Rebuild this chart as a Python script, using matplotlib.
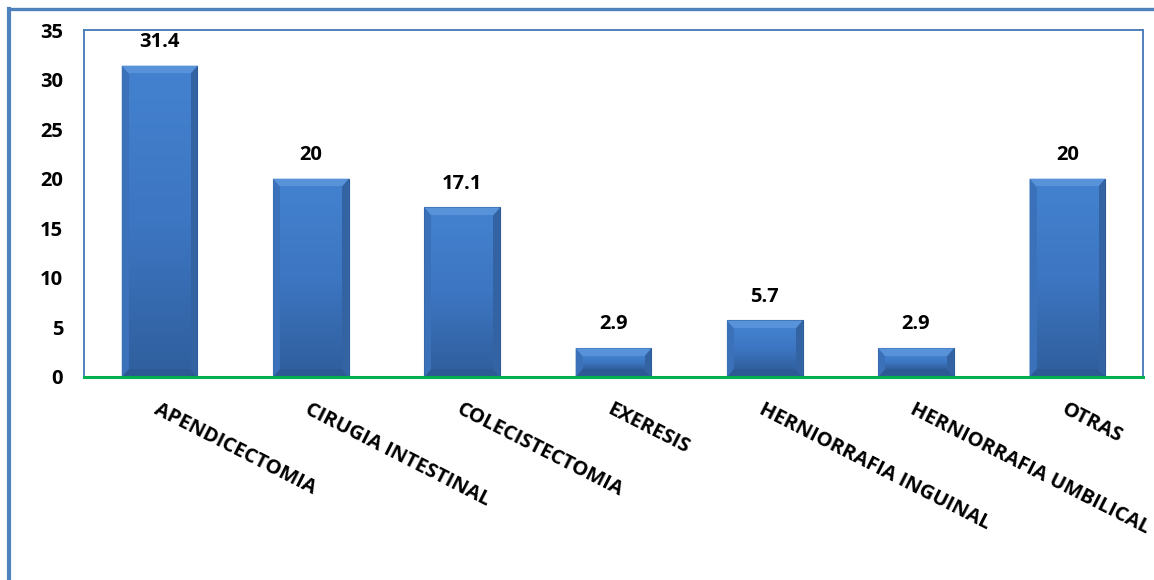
import numpy as np
import matplotlib.pyplot as plt
from matplotlib.patches import Polygon
from matplotlib.lines import Line2D
from matplotlib.colors import LinearSegmentedColormap

categories = ['APENDICECTOMIA', 'CIRUGIA INTESTINAL', 'COLECISTECTOMIA', 'EXERESIS',
              'HERNIORRAFIA INGUINAL', 'HERNIORRAFIA UMBILICAL', 'OTRAS']
values = [31.4, 20, 17.1, 2.9, 5.7, 2.9, 20]
value_labels = ['31.4', '20', '17.1', '2.9', '5.7', '2.9', '20']

plt.rcParams['font.family'] = ['Open Sans', 'DejaVu Sans']
plt.rcParams['font.weight'] = 'bold'

W, H, DPI = 1154, 580, 100
fig = plt.figure(figsize=(W / DPI, H / DPI), dpi=DPI)
ax = fig.add_axes([84 / W, 1 - 377 / H, (1143 - 84) / W, (377 - 30) / H])

x = np.arange(len(categories))
bw = 0.5
bars = ax.bar(x, values, width=bw, color='#3C74BE', edgecolor='#2B5A96',
              linewidth=0.8, zorder=2)

face = LinearSegmentedColormap.from_list('face', ['#30609F', '#3D76C2', '#4381CE'])
grad = np.linspace(0, 1, 64).reshape(-1, 1)

# bevel on each bar: light top, shaded sides and bottom, graded face
px_x = (1143 - 84) / len(categories)
px_y = (377 - 30) / 35
bx, by = 7 / px_x, 8 / px_y
for b in bars:
    x0, x1 = b.get_x(), b.get_x() + b.get_width()
    h = b.get_height()
    dy = min(by, h / 2)
    top = [(x0, h), (x1, h), (x1 - bx, h - dy), (x0 + bx, h - dy)]
    bot = [(x0, 0), (x1, 0), (x1 - bx, dy), (x0 + bx, dy)]
    left = [(x0, 0), (x0, h), (x0 + bx, h - dy), (x0 + bx, dy)]
    right = [(x1, 0), (x1, h), (x1 - bx, h - dy), (x1 - bx, dy)]
    for pts, c in [(left, '#3A71B9'), (right, '#3363A2'), (bot, '#2D5A94'), (top, '#5893DA')]:
        ax.add_patch(Polygon(pts, closed=True, facecolor=c, edgecolor='none', zorder=3))
    ax.imshow(grad, cmap=face, origin='lower', aspect='auto', zorder=3,
              extent=(x0 + bx, x1 - bx, dy, h - dy), interpolation='bilinear')

ax.set_xlim(-0.5, len(categories) - 0.5)
ax.set_ylim(0, 35)
ax.set_yticks(range(0, 36, 5))

for xi, v, lab in zip(x, values, value_labels):
    ax.annotate(lab, (xi, v), xytext=(0, 10), textcoords='offset points',
                ha='center', va='bottom', fontsize=14.5, fontweight='bold')

ax.set_xticks(x)
ax.set_xticklabels(categories, rotation=-27, ha='left', va='top',
                   rotation_mode='anchor', fontsize=14.5, fontweight='bold')
ax.tick_params(axis='x', length=0, pad=16)
ax.tick_params(axis='y', length=0, pad=15, labelsize=14.5)
for t in ax.get_yticklabels():
    t.set_fontweight('bold')

for s in ['left', 'top', 'right']:
    ax.spines[s].set_color('#4F81BD')
    ax.spines[s].set_linewidth(1.4)
ax.spines['bottom'].set_color('#00B050')
ax.spines['bottom'].set_linewidth(2.2)
ax.spines['bottom'].set_zorder(4)

# outer chart frame
fig.add_artist(Line2D([9 / W, 9 / W], [0, 1 - 9 / H], color='#4F81BD', lw=3,
                      transform=fig.transFigure, solid_capstyle='projecting'))
fig.add_artist(Line2D([9 / W, 1], [1 - 9 / H, 1 - 9 / H], color='#4F81BD', lw=2.4,
                      transform=fig.transFigure, solid_capstyle='projecting'))

fig.savefig('out.png', dpi=DPI)
